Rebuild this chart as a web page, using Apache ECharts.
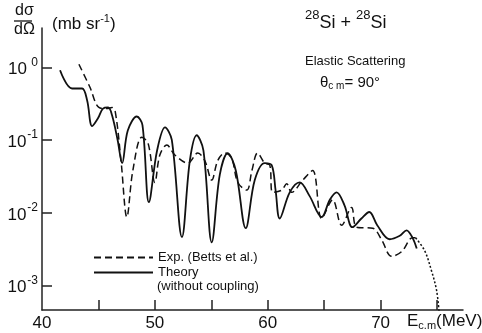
<!DOCTYPE html>
<html>
<head>
<meta charset="utf-8">
<script src="https://cdn.jsdelivr.net/npm/echarts@6/dist/echarts.min.js"></script>
<style>
  html, body { margin: 0; padding: 0; background: #fff; }
  #chart { width: 482px; height: 333px; }
</style>
</head>
<body>
<div id="chart"></div>
<script>
// Exp. (Betts et al.) - dashed
const expEnergy = [43.27, 44.25, 45.04, 45.75, 46.2, 46.5, 47.0, 47.52, 48.05, 48.85, 49.4, 50.0, 50.44, 51.06, 51.77, 52.92, 53.8, 54.42, 55.04, 55.57, 56.2, 56.8, 57.35, 58.14, 58.6, 59.1, 59.73, 60.18, 60.44, 61.24, 61.68, 62.12, 63.1, 63.98, 64.78, 65.75, 66.55, 67.43, 67.88, 69.3, 70.1, 70.97, 71.86, 72.83, 73.1]
const expValues = [1.1, 0.53, 0.28, 0.27, 0.28, 0.24, 0.052, 0.0087, 0.038, 0.109, 0.09, 0.026, 0.062, 0.085, 0.062, 0.048, 0.066, 0.052, 0.028, 0.052, 0.066, 0.056, 0.026, 0.0204, 0.038, 0.066, 0.048, 0.045, 0.019, 0.0204, 0.025, 0.019, 0.028, 0.038, 0.0083, 0.015, 0.0067, 0.0118, 0.0063, 0.0061, 0.0042, 0.0025, 0.0029, 0.0045, 0.0045]

// dotted continuation of the data
const tailEnergy = [73.1, 73.9, 74.5, 74.96, 75.2]
const tailValues = [0.0045, 0.003, 0.0016, 0.00085, 0.0004]

// Theory (without coupling) - solid
const theoryEnergy = [41.6, 42.66, 43.55, 44.0, 44.44, 44.97, 45.4, 45.86, 46.2, 46.7, 47.1, 47.6, 48.4, 48.9, 49.47, 50.2, 50.9, 51.5, 52.4, 53.1, 53.7, 54.3, 55.04, 55.75, 56.46, 57.17, 58.05, 58.85, 59.73, 60.35, 60.7, 61.06, 61.95, 62.83, 63.7, 64.78, 65.5, 66.1, 66.8, 67.5, 68.3, 69.0, 69.7, 70.8, 71.7, 72.3, 72.83, 73.2]
const theoryValues = [0.91, 0.51, 0.51, 0.35, 0.155, 0.2, 0.27, 0.28, 0.22, 0.1, 0.048, 0.135, 0.21, 0.16, 0.0139, 0.072, 0.149, 0.1, 0.0046, 0.052, 0.116, 0.072, 0.0039, 0.033, 0.066, 0.038, 0.0061, 0.028, 0.048, 0.045, 0.02, 0.0083, 0.019, 0.026, 0.017, 0.0087, 0.015, 0.019, 0.0126, 0.0063, 0.0083, 0.0102, 0.0067, 0.0043, 0.0048, 0.0057, 0.0045, 0.0032]

const xTicks = [45, 50, 55, 60, 65, 70, 75]
const xLabels = [40, 50, 60, 70]
const yTicks = [0.001, 0.01, 0.1, 1]

const FONT = "'Liberation Sans Narrow', 'Liberation Sans', sans-serif"
const INK = '#111'

function pairs(xs, ys) {
  return xs.map((x, i) => [x, ys[i]])
}

const chart = echarts.init(document.getElementById('chart'))

chart.setOption({
  animation: false,
  backgroundColor: '#fff',
  grid: { left: 42, right: 19, top: 28, bottom: 23 },
  legend: {
    data: ['Exp. (Betts et al.)', 'Theory'],
    orient: 'vertical',
    left: 88,
    top: 245,
    itemWidth: 59,
    itemHeight: 12,
    itemGap: 0,
    itemStyle: { opacity: 0 },
    textStyle: {
      fontFamily: FONT,
      fontSize: 13,
      color: INK,
      lineHeight: 15
    }
  },
  xAxis: {
    type: 'value',
    min: 40,
    max: 77.3,
    splitLine: { show: false },
    axisLine: { lineStyle: { color: '#222', width: 1.5 } },
    axisTick: {
      inside: true,
      length: 10,
      customValues: xTicks,
      lineStyle: { color: '#222', width: 1.5 }
    },
    axisLabel: {
      customValues: xLabels,
      fontFamily: FONT,
      fontSize: 17,
      color: INK,
      margin: 5
    }
  },
  yAxis: {
    type: 'log',
    logBase: 10,
    min: 0.000457,
    max: 3.47,
    splitLine: { show: false },
    axisLine: { lineStyle: { color: '#222', width: 1.5 } },
    axisTick: {
      inside: true,
      length: 10,
      customValues: yTicks,
      lineStyle: { color: '#222', width: 1.5 }
    },
    axisLabel: {
      customValues: yTicks,
      margin: 4,
      formatter: function (v) {
        const p = Math.round(Math.log10(v))
        return '{b|10}{s|' + (p === 0 ? ' 0' : p) + '}'
      },
      rich: {
        b: { fontFamily: FONT, fontSize: 17, color: INK, verticalAlign: 'bottom' },
        s: { fontFamily: FONT, fontSize: 12, color: INK, padding: [0, 0, 10, 1] }
      }
    }
  },
  series: [
    {
      name: 'Exp. (Betts et al.)',
      type: 'line',
      data: pairs(expEnergy, expValues),
      showSymbol: false,
      symbol: 'none',
      smooth: 0.35,
      itemStyle: { color: INK },
      lineStyle: { color: INK, width: 1.5, type: [7, 4] }
    },
    {
      name: 'tail',
      type: 'line',
      data: pairs(tailEnergy, tailValues),
      showSymbol: false,
      symbol: 'none',
      smooth: 0.35,
      itemStyle: { color: INK },
      lineStyle: { color: INK, width: 1.5, type: [2, 2] }
    },
    {
      name: 'Theory',
      type: 'line',
      data: pairs(theoryEnergy, theoryValues),
      showSymbol: false,
      symbol: 'none',
      smooth: 0.35,
      itemStyle: { color: INK },
      lineStyle: { color: INK, width: 1.8 }
    }
  ],
  graphic: [
    { type: 'text', left: 15, top: 3, style: { text: 'dσ', font: '16px ' + FONT, fill: INK } },
    { type: 'line', shape: { x1: 14, y1: 21, x2: 32, y2: 21 }, style: { stroke: INK, lineWidth: 1.3 } },
    { type: 'text', left: 14, top: 22, style: { text: 'dΩ', font: '16px ' + FONT, fill: INK } },
    {
      type: 'text', left: 52, top: 13,
      style: {
        text: '{a|(mb sr}{s|-1}{a|)}',
        rich: {
          a: { fontFamily: FONT, fontSize: 17, fill: INK, verticalAlign: 'bottom' },
          s: { fontFamily: FONT, fontSize: 11, fill: INK, padding: [0, 0, 9, 0] }
        }
      }
    },
    {
      type: 'text', left: 305, top: 9,
      style: {
        text: '{s|28}{a|Si + }{s|28}{a|Si}',
        rich: {
          a: { fontFamily: FONT, fontSize: 18, fill: INK, verticalAlign: 'bottom' },
          s: { fontFamily: FONT, fontSize: 13, fill: INK, padding: [0, 0, 10, 0] }
        }
      }
    },
    { type: 'text', left: 305, top: 55, style: { text: 'Elastic Scattering', font: '13px ' + FONT, fill: INK } },
    {
      type: 'text', left: 320, top: 75,
      style: {
        text: '{a|θ}{b|c m}{a|= 90°}',
        rich: {
          a: { fontFamily: FONT, fontSize: 15, fill: INK },
          b: { fontFamily: FONT, fontSize: 10, fill: INK, padding: [8, 0, 0, 0] }
        }
      }
    },
    { type: 'text', left: 157, top: 280, style: { text: '(without coupling)', font: '13px ' + FONT, fill: INK } },
    {
      type: 'text', left: 407, top: 313,
      style: {
        text: '{a|E}{b|c.m}{a|(MeV)}',
        rich: {
          a: { fontFamily: FONT, fontSize: 17, fill: INK },
          b: { fontFamily: FONT, fontSize: 11, fill: INK, padding: [9, 0, 0, 0] }
        }
      }
    }
  ]
})
</script>
</body>
</html>
